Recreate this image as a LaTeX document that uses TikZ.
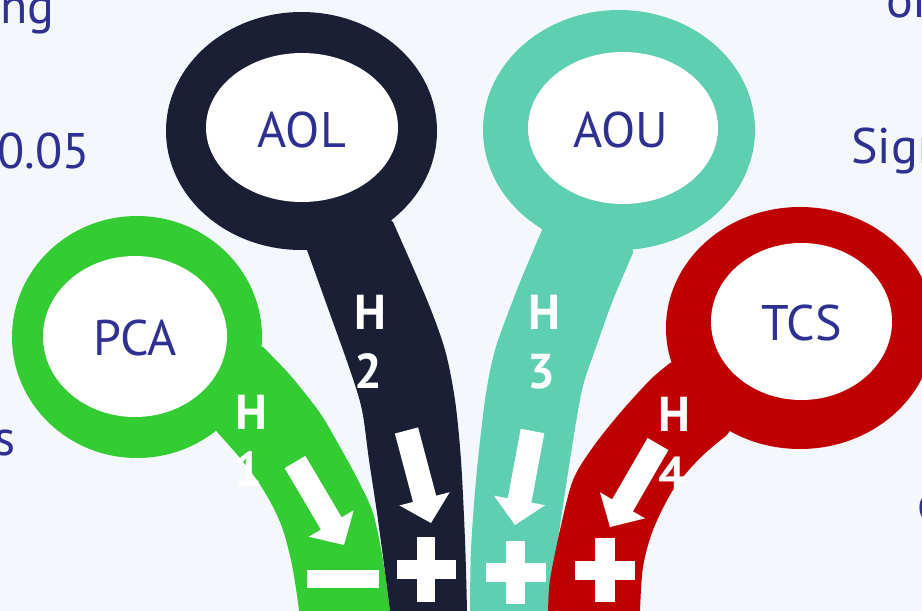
\documentclass[tikz,border=0pt]{standalone}
\usepackage{fontspec}
\setmainfont{PT Sans}
\usetikzlibrary{calc}
\definecolor{navyc}{RGB}{26,31,54}
\definecolor{tealc}{RGB}{94,207,177}
\definecolor{greenc}{RGB}{51,204,51}
\definecolor{redc}{RGB}{192,0,0}
\definecolor{txtblue}{RGB}{46,49,146}
\definecolor{bgc}{RGB}{244,248,253}
\newcommand\BlockArr[2]{%
  \coordinate (#1-h) at ($(#2)!25pt!(#1)$);
  \fill[white] ($(#1)!12pt!90:(#2)$) -- ($(#1-h)!12pt!90:(#2)$) -- ($(#1-h)!26pt!90:(#2)$) -- (#2)
     -- ($(#1-h)!26pt!-90:(#2)$) -- ($(#1-h)!12pt!-90:(#2)$) -- ($(#1)!12pt!-90:(#2)$) -- cycle;}
\tikzset{
  lab/.style={inner sep=0pt, text=txtblue, font=\fontsize{50}{60}\selectfont},
  hlab/.style={inner sep=0pt, text=white, font=\fontsize{49}{59}\selectfont\bfseries},
  edge/.style={inner sep=0pt, text=txtblue, font=\fontsize{50}{60}\selectfont},
  bar/.style={fill=white}
}
\begin{document}
\begin{tikzpicture}[x=1pt,y=-1pt]
\useasboundingbox (0,0) rectangle (922,611);
\fill[bgc] (0,0) rectangle (922,611);
\clip (0,0) rectangle (922,611);

% partial side texts
\node[edge, anchor=base east] (t1) at (55,23) {ing};
\node[edge, anchor=base east] (t2) at (90,168) {0.05};
\node[edge, anchor=base east] (t3) at (16,455) {s};
\node[edge, anchor=base west] (t4) at (886,17) {of};
\node[edge, anchor=base west] (t5) at (851,163) {Sign};
\node[edge, anchor=base west] (t6) at (917,520) {o};

% PCA (green)
\fill[greenc] (137,337) -- plot[smooth] coordinates {(263,347) (290,375) (320,413) (340,447) (358,480) (373,513) (383,560) (390,611) (392,640)}
   -- plot[smooth] coordinates {(299,640) (299,611) (292,565) (283,530) (272,505) (257,480) (240,458) (218,433)} -- cycle;
\fill[greenc] (137,337) ellipse [x radius=125, y radius=121];
\fill[white] (135,336.5) ellipse [x radius=92, y radius=80.5];
\node[lab] (pca) at (135,337.5) {PCA};

% AOL (navy)
\fill[navyc] (301.5,131) -- plot[smooth] coordinates {(307,250) (325,300) (350,370) (362,410) (369,460) (378,520) (390,611) (392,640)}
   -- plot[smooth] coordinates {(467,640) (467,611) (465,540) (461,460) (455,400) (445,350) (427,300) (393,222)} -- cycle;
\fill[navyc] (301.5,131) ellipse [x radius=135.5, y radius=119];
\fill[white] (302,127.5) ellipse [x radius=96, y radius=74.5];
\node[lab] (aol) at (302,129.5) {AOL};

% AOU (teal)
\fill[tealc] (619,130) -- plot[smooth] coordinates {(542,230) (525,270) (513,300) (495,350) (485,400) (476,480) (471,550) (470,611) (470,640)}
   -- plot[smooth] coordinates {(549,640) (549,611) (558,540) (570,460) (582,390) (595,350) (613,300) (633,253)} -- cycle;
\fill[tealc] (619,130) ellipse [x radius=136, y radius=120];
\fill[white] (623,128) ellipse [x radius=95, y radius=76];
\node[lab] (aou) at (621,129.5) {AOU};

% TCS (red)
\fill[redc] (800,328) -- plot[smooth] coordinates {(670,363) (650,380) (620,413) (593,447) (573,480) (560,530) (550,580) (548,611) (547,640)}
   -- plot[smooth] coordinates {(640,640) (640,611) (643,567) (653,530) (673,490) (700,458) (727,435)} -- cycle;
\fill[redc] (800,328) ellipse [x radius=134, y radius=121];
\fill[white] (801.5,321.5) ellipse [x radius=90.5, y radius=78.5];
\node[lab] (tcs) at (801.5,322.5) {TCS};

% hypothesis labels
\node[hlab] (h1a) at (251,412.5) {H};
\node[hlab] (h1b) at (248,469.5) {1};
\node[hlab] (h2a) at (370,312.5) {H};
\node[hlab] (h2b) at (368.5,371.5) {2};
\node[hlab] (h3a) at (544,312.5) {H};
\node[hlab] (h3b) at (541,371.5) {3};
\node[hlab] (h4a) at (674,414.5) {H};
\node[hlab] (h4b) at (672,474) {4};

% block arrows
\coordinate (a1t) at (295,462); \coordinate (a1p) at (344,545);
\coordinate (a2t) at (406.5,430.5); \coordinate (a2p) at (431,523);
\coordinate (a3t) at (532.5,431); \coordinate (a3p) at (515,525);
\coordinate (a4t) at (658,444); \coordinate (a4p) at (610,527);
\BlockArr{a1t}{a1p}
\BlockArr{a2t}{a2p}
\BlockArr{a3t}{a3p}
\BlockArr{a4t}{a4p}

% signs
\fill[bar] (307,570) rectangle (379,588);
\fill[bar] (397,560) rectangle (456,579);
\fill[bar] (417,537) rectangle (435,602);
\fill[bar] (486,563) rectangle (546,582);
\fill[bar] (506,541) rectangle (525,604);
\fill[bar] (575,561) rectangle (635,580);
\fill[bar] (595,538) rectangle (615,602);
\end{tikzpicture}
\end{document}
